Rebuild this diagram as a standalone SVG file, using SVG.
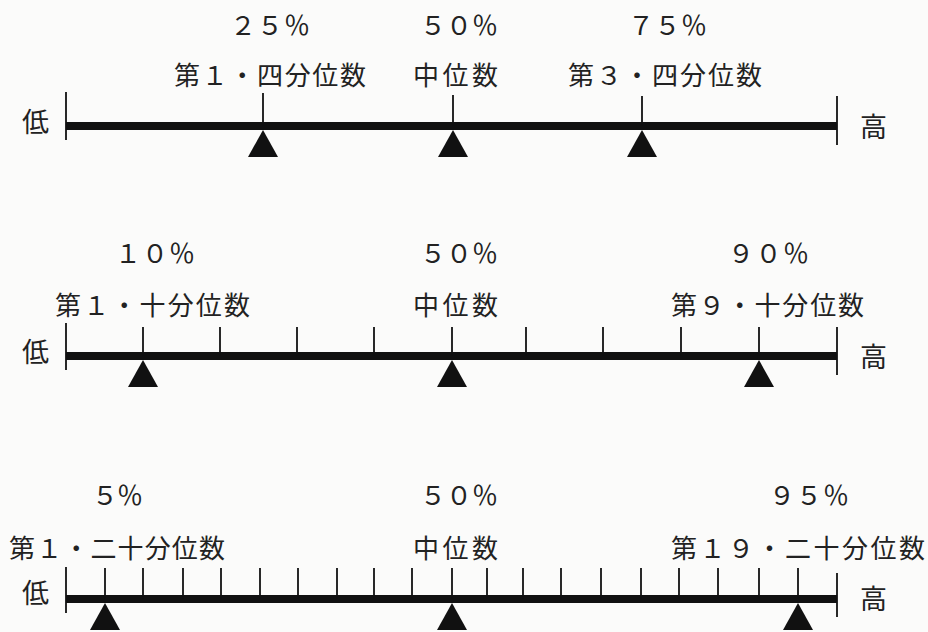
<svg xmlns="http://www.w3.org/2000/svg" xmlns:xlink="http://www.w3.org/1999/xlink" width="928" height="632" viewBox="0 0 928 632">
<style>
  .bg { fill: #fbfbfa; }
  .axis { stroke: #111; stroke-width: 8; stroke-linecap: butt; }
  .tick { stroke: #111; stroke-width: 1.8; }
  .tri { fill: #111; }
  text { font-family: "Noto Sans CJK JP", "Noto Sans CJK SC", sans-serif; font-size: 26px; fill: #222; }
  .end { font-size: 27px; }
</style>
<defs>
  <polygon id="tri" class="tri" points="0,0 15,27 -15,27"/>
</defs>
<rect class="bg" x="0" y="0" width="928" height="632"/>

<!-- Row 1: quartiles -->
<g id="axis-quartile">
  <line class="axis" x1="66" y1="126" x2="837" y2="126"/>
  <line class="tick" x1="66" y1="92" x2="66" y2="140"/>
  <line class="tick" x1="837" y1="96" x2="837" y2="145"/>
  <text class="end" x="22" y="132">低</text>
  <text class="end" x="860" y="137">高</text>
</g>
<g id="q1">
  <line class="tick" x1="263" y1="93" x2="263" y2="126"/>
  <use xlink:href="#tri" x="263" y="130"/>
  <text x="230" y="35" textLength="80" lengthAdjust="spacing">２５％</text>
  <text x="174" y="85" textLength="192" lengthAdjust="spacing">第１・四分位数</text>
</g>
<g id="q2">
  <line class="tick" x1="453" y1="95" x2="453" y2="126"/>
  <use xlink:href="#tri" x="453" y="130"/>
  <text x="420" y="35" textLength="78" lengthAdjust="spacing">５０％</text>
  <text x="413" y="85" textLength="85" lengthAdjust="spacing">中位数</text>
</g>
<g id="q3">
  <line class="tick" x1="642" y1="96" x2="642" y2="126"/>
  <use xlink:href="#tri" x="642" y="130"/>
  <text x="628" y="35" textLength="79" lengthAdjust="spacing">７５％</text>
  <text x="568" y="85" textLength="194" lengthAdjust="spacing">第３・四分位数</text>
</g>

<!-- Row 2: deciles -->
<g id="axis-decile">
  <line class="axis" x1="66" y1="356" x2="837" y2="356"/>
  <line class="tick" x1="66" y1="323" x2="66" y2="370"/>
  <line class="tick" x1="837" y1="327" x2="837" y2="375"/>
  <g class="ticks">
    <line class="tick" x1="143" y1="327" x2="143" y2="356"/>
    <line class="tick" x1="220" y1="327" x2="220" y2="356"/>
    <line class="tick" x1="297" y1="327" x2="297" y2="356"/>
    <line class="tick" x1="374" y1="327" x2="374" y2="356"/>
    <line class="tick" x1="452" y1="327" x2="452" y2="356"/>
    <line class="tick" x1="526" y1="327" x2="526" y2="356"/>
    <line class="tick" x1="603" y1="327" x2="603" y2="356"/>
    <line class="tick" x1="681" y1="327" x2="681" y2="356"/>
    <line class="tick" x1="759" y1="327" x2="759" y2="356"/>
  </g>
  <text class="end" x="22" y="362">低</text>
  <text class="end" x="860" y="367">高</text>
</g>
<g id="d1">
  <use xlink:href="#tri" x="143" y="360"/>
  <text x="115" y="263" textLength="80" lengthAdjust="spacing">１０％</text>
  <text x="55" y="315" textLength="195" lengthAdjust="spacing">第１・十分位数</text>
</g>
<g id="d5">
  <use xlink:href="#tri" x="452" y="360"/>
  <text x="420" y="263" textLength="78" lengthAdjust="spacing">５０％</text>
  <text x="413" y="315" textLength="85" lengthAdjust="spacing">中位数</text>
</g>
<g id="d9">
  <use xlink:href="#tri" x="759" y="360"/>
  <text x="728" y="263" textLength="81" lengthAdjust="spacing">９０％</text>
  <text x="671" y="315" textLength="193" lengthAdjust="spacing">第９・十分位数</text>
</g>

<!-- Row 3: vigintiles -->
<g id="axis-vigintile">
  <line class="axis" x1="66" y1="599" x2="837" y2="599"/>
  <line class="tick" x1="66" y1="567" x2="66" y2="613"/>
  <line class="tick" x1="837" y1="573" x2="837" y2="617"/>
  <g class="ticks">
    <line class="tick" x1="105" y1="568" x2="105" y2="599"/>
    <line class="tick" x1="143" y1="568" x2="143" y2="599"/>
    <line class="tick" x1="183" y1="568" x2="183" y2="599"/>
    <line class="tick" x1="221" y1="568" x2="221" y2="599"/>
    <line class="tick" x1="260" y1="568" x2="260" y2="599"/>
    <line class="tick" x1="298" y1="568" x2="298" y2="599"/>
    <line class="tick" x1="337" y1="568" x2="337" y2="599"/>
    <line class="tick" x1="374" y1="568" x2="374" y2="599"/>
    <line class="tick" x1="412" y1="568" x2="412" y2="599"/>
    <line class="tick" x1="452" y1="568" x2="452" y2="599"/>
    <line class="tick" x1="487" y1="568" x2="487" y2="599"/>
    <line class="tick" x1="523" y1="568" x2="523" y2="599"/>
    <line class="tick" x1="561" y1="568" x2="561" y2="599"/>
    <line class="tick" x1="601" y1="568" x2="601" y2="599"/>
    <line class="tick" x1="641" y1="568" x2="641" y2="599"/>
    <line class="tick" x1="679" y1="568" x2="679" y2="599"/>
    <line class="tick" x1="718" y1="568" x2="718" y2="599"/>
    <line class="tick" x1="759" y1="568" x2="759" y2="599"/>
    <line class="tick" x1="798" y1="568" x2="798" y2="599"/>
  </g>
  <text class="end" x="22" y="603">低</text>
  <text class="end" x="860" y="609">高</text>
</g>
<g id="v1">
  <use xlink:href="#tri" x="105" y="603"/>
  <text x="92" y="505" textLength="51" lengthAdjust="spacing">５％</text>
  <text x="9" y="558" textLength="216" lengthAdjust="spacing">第１・二十分位数</text>
</g>
<g id="v10">
  <use xlink:href="#tri" x="452" y="603"/>
  <text x="420" y="505" textLength="78" lengthAdjust="spacing">５０％</text>
  <text x="413" y="558" textLength="85" lengthAdjust="spacing">中位数</text>
</g>
<g id="v19">
  <use xlink:href="#tri" x="798" y="603"/>
  <text x="769" y="505" textLength="80" lengthAdjust="spacing">９５％</text>
  <text x="671" y="558" textLength="254" lengthAdjust="spacing">第１９・二十分位数</text>
</g>
</svg>
